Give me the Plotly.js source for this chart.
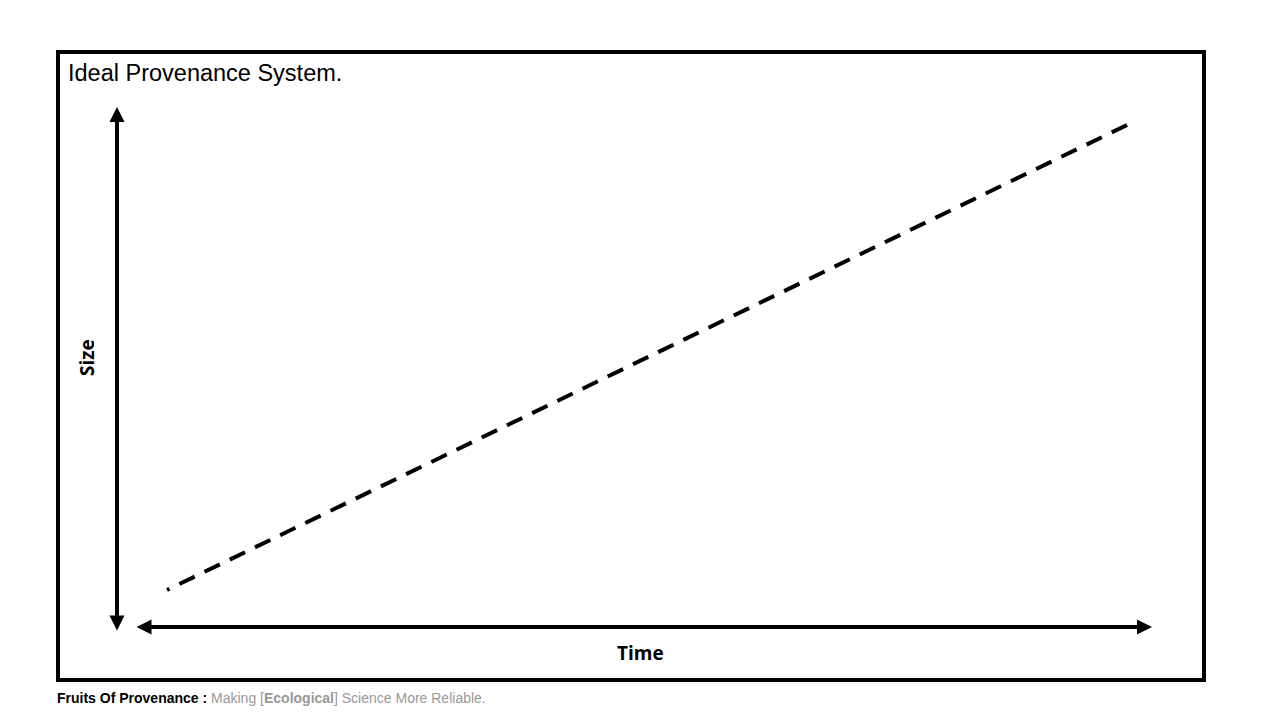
<!DOCTYPE html>
<html>
<head>
<meta charset="utf-8">
<script src="https://cdn.plot.ly/plotly-3.0.1.min.js"></script>
<style>html,body{margin:0;padding:0;background:#fff;}#chart{width:1265px;height:712px;}</style>
</head>
<body>
<div id="chart"></div>
<script>
// Data; the line is drawn from the top-right end back to the origin
const timeValues = [10, 0];
const sizeValues = [10, 0];
const chartTitle = "Ideal Provenance System.";
const xTitle = "Time";
const yTitle = "Size";

const trace = {
  x: timeValues,
  y: sizeValues,
  type: "scatter",
  mode: "lines",
  line: {color: "#000", width: 4, dash: "17px,11px"},
  hoverinfo: "skip"
};

const W = 1265, H = 712;
const L = 117, R = 113, T = 107, B = 85;
const pw = W - L - R, ph = H - T - B;
const px = v => (v - L) / pw;
const py = v => (H - B - v) / ph;

const layout = {
  width: W, height: H,
  margin: {l: L, r: R, t: T, b: B, pad: 0},
  paper_bgcolor: "#fff", plot_bgcolor: "#fff",
  showlegend: false,
  xaxis: {range: [-0.521, 10.26], visible: false, fixedrange: true},
  yaxis: {range: [-0.796, 10.387], visible: false, fixedrange: true},
  shapes: [
    {type: "rect", xref: "paper", yref: "paper",
     x0: px(58), x1: px(1204), y0: py(680), y1: py(52),
     line: {color: "#000", width: 4}, fillcolor: "rgba(0,0,0,0)", layer: "below"}
  ],
  annotations: [
    {xref: "paper", yref: "paper", x: px(66), y: py(58), xanchor: "left", yanchor: "top",
     text: chartTitle, showarrow: false,
     font: {family: "Liberation Sans, Arial, sans-serif", size: 23.5, color: "#000"}},
    // vertical double arrow
    {xref: "paper", yref: "paper", x: px(117), y: py(107), ax: 0, ay: 525,
     axref: "pixel", ayref: "pixel", text: "", showarrow: true,
     arrowhead: 2, startarrowhead: 2, arrowside: "end+start",
     arrowwidth: 4, arrowsize: 0.75, startarrowsize: 0.75, arrowcolor: "#000"},
    // horizontal double arrow
    {xref: "paper", yref: "paper", x: px(1152), y: py(627), ax: -1017, ay: 0,
     axref: "pixel", ayref: "pixel", text: "", showarrow: true,
     arrowhead: 2, startarrowhead: 2, arrowside: "end+start",
     arrowwidth: 4, arrowsize: 0.75, startarrowsize: 0.75, arrowcolor: "#000"},
    {xref: "paper", yref: "paper", x: px(640), y: py(653), xanchor: "center", yanchor: "middle",
     text: "<b>" + xTitle + "</b>", showarrow: false,
     font: {family: "Open Sans, sans-serif", size: 19, color: "#000"}},
    {xref: "paper", yref: "paper", x: px(87), y: py(358), xanchor: "center", yanchor: "middle",
     text: "<b>" + yTitle + "</b>", showarrow: false, textangle: -90,
     font: {family: "Open Sans, sans-serif", size: 19, color: "#000"}},
    {xref: "paper", yref: "paper", x: px(55), y: py(698), xanchor: "left", yanchor: "middle",
     text: "<b>Fruits Of Provenance : </b><span style='color:#999'>Making [<b>Ecological</b>] Science More Reliable.</span>",
     showarrow: false,
     font: {family: "Liberation Sans, Arial, sans-serif", size: 14, color: "#000"}}
  ]
};

Plotly.newPlot("chart", [trace], layout, {displayModeBar: false, staticPlot: true});
</script>
</body>
</html>
